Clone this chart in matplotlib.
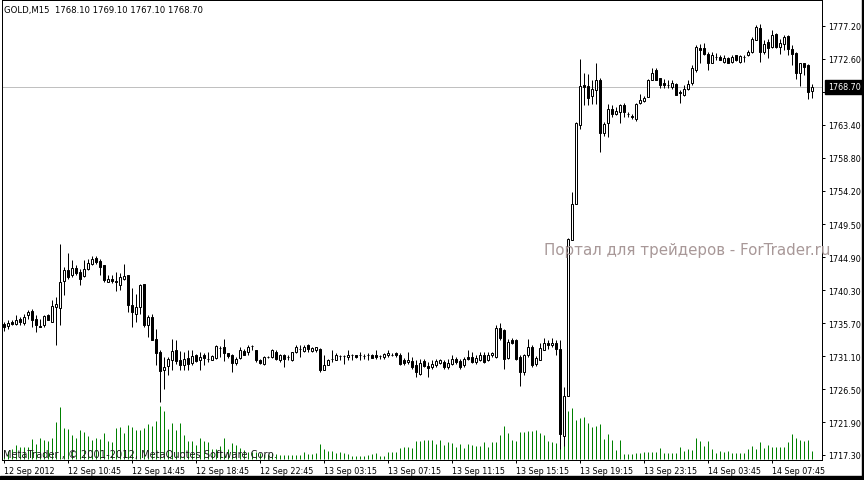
import matplotlib
matplotlib.use('Agg')
import matplotlib.pyplot as plt
from matplotlib.transforms import blended_transform_factory
from matplotlib.patches import Rectangle


# GOLD M15, 12 Sep 06:45 .. 14 Sep 09:15, bar by bar
opens = [
    1735.6, 1735.3, 1735.8, 1735.6, 1736.3, 1735.7, 1736.8, 1737.4, 1736.3, 1735.3,
    1735.4, 1736.9, 1735.9, 1737.9, 1737.8, 1741.6, 1743.1, 1742.4, 1743.4, 1742.9,
    1742.3, 1743.3, 1744.0, 1744.8, 1744.4, 1743.8, 1741.5, 1741.9, 1741.6, 1741.1,
    1741.9, 1742.4, 1738.3, 1737.0, 1738.0, 1741.2, 1735.5, 1736.5, 1733.5, 1731.7,
    1729.1, 1729.7, 1730.5, 1732.0, 1730.6, 1729.9, 1730.9, 1730.1, 1731.2, 1730.5,
    1731.2, 1730.7, 1730.6, 1730.9, 1732.3, 1732.4, 1731.5, 1731.3, 1730.2, 1730.9,
    1731.8, 1731.7, 1732.5, 1732.0, 1730.5, 1730.0, 1731.0, 1731.0, 1731.7, 1730.6,
    1731.3, 1731.0, 1730.5, 1731.7, 1732.1, 1731.8, 1732.6, 1731.8, 1731.9, 1732.1,
    1729.2, 1729.9, 1730.7, 1730.6, 1731.1, 1731.1, 1731.0, 1731.2, 1731.2, 1731.2,
    1731.1, 1731.2, 1731.2, 1731.3, 1731.1, 1731.0, 1731.2, 1731.3, 1731.5, 1731.3,
    1730.6, 1730.3, 1730.4, 1729.8, 1728.6, 1730.4, 1729.7, 1729.6, 1729.9, 1730.2,
    1730.3, 1729.6, 1730.0, 1730.7, 1730.4, 1729.8, 1731.0, 1731.0, 1730.3, 1730.5,
    1731.3, 1730.5, 1731.2, 1731.0, 1735.1, 1734.8, 1730.8, 1733.4, 1733.3, 1731.0,
    1728.9, 1731.3, 1732.4, 1730.0, 1730.6, 1732.0, 1733.0, 1732.6, 1733.0, 1732.1,
    1719.9, 1725.6, 1747.3, 1752.4, 1763.4, 1769.0, 1768.8, 1767.4, 1768.3, 1769.6,
    1762.3, 1763.6, 1765.6, 1764.9, 1765.2, 1766.2, 1764.9, 1764.7, 1764.2, 1766.5,
    1766.7, 1767.3, 1769.7, 1771.0, 1769.9, 1769.3, 1769.0, 1768.7, 1769.1, 1768.0,
    1767.6, 1768.4, 1769.2, 1771.0, 1774.1, 1774.1, 1773.3, 1772.1, 1772.9, 1772.9,
    1772.2, 1772.8, 1772.2, 1773.1, 1772.2, 1772.9, 1773.2, 1773.5, 1775.3, 1776.9,
    1773.5, 1774.9, 1774.2, 1776.1, 1774.3, 1774.7, 1775.8, 1774.0, 1773.4, 1770.6,
    1772.0, 1771.7, 1768.1,
]
highs = [
    1735.8, 1736.1, 1736.2, 1736.8, 1736.5, 1737.0, 1737.6, 1737.7, 1736.8, 1736.3,
    1736.9, 1737.0, 1739.0, 1739.3, 1746.8, 1743.5, 1745.5, 1744.5, 1743.8, 1743.3,
    1744.5, 1744.7, 1745.1, 1745.1, 1744.7, 1743.8, 1742.4, 1742.5, 1742.9, 1742.7,
    1744.0, 1742.4, 1740.6, 1739.8, 1741.2, 1741.2, 1736.8, 1737.0, 1734.9, 1731.9,
    1731.0, 1731.0, 1733.5, 1733.3, 1731.8, 1731.7, 1731.9, 1731.9, 1731.4, 1731.7,
    1731.6, 1731.7, 1731.2, 1732.6, 1732.5, 1733.5, 1731.6, 1731.4, 1731.0, 1732.4,
    1732.1, 1732.6, 1732.7, 1732.0, 1730.7, 1731.1, 1731.1, 1732.1, 1731.9, 1731.4,
    1731.4, 1731.3, 1731.7, 1732.6, 1732.6, 1732.7, 1732.8, 1732.4, 1732.4, 1732.2,
    1731.2, 1730.7, 1731.9, 1731.5, 1731.3, 1731.3, 1731.9, 1731.4, 1731.3, 1731.7,
    1731.4, 1731.5, 1731.4, 1731.9, 1731.2, 1731.6, 1731.9, 1731.6, 1731.7, 1731.6,
    1730.8, 1731.7, 1731.0, 1730.5, 1730.7, 1730.7, 1730.3, 1730.5, 1730.7, 1730.7,
    1730.6, 1730.7, 1731.2, 1731.0, 1730.7, 1731.0, 1731.9, 1731.7, 1731.2, 1731.7,
    1731.7, 1731.7, 1731.7, 1735.4, 1735.7, 1734.9, 1733.5, 1733.7, 1733.5, 1731.2,
    1731.4, 1733.5, 1732.6, 1731.1, 1733.0, 1733.7, 1733.3, 1733.7, 1733.3, 1733.3,
    1726.8, 1747.6, 1754.0, 1763.8, 1772.6, 1770.7, 1770.5, 1769.7, 1772.0, 1769.9,
    1763.8, 1766.3, 1766.1, 1765.9, 1766.3, 1766.4, 1765.2, 1764.9, 1766.5, 1767.7,
    1767.4, 1769.8, 1771.3, 1771.3, 1770.0, 1769.8, 1769.7, 1769.6, 1769.2, 1768.2,
    1769.0, 1769.6, 1771.7, 1774.6, 1774.7, 1774.8, 1773.5, 1773.6, 1773.4, 1773.1,
    1773.1, 1772.9, 1773.2, 1773.2, 1773.1, 1773.2, 1773.8, 1775.6, 1777.3, 1777.5,
    1775.2, 1775.4, 1776.6, 1776.2, 1775.4, 1775.9, 1775.9, 1774.5, 1773.5, 1772.1,
    1772.1, 1771.9, 1769.1,
]
lows = [
    1734.6, 1734.9, 1735.5, 1735.4, 1735.4, 1735.5, 1736.3, 1735.2, 1734.5, 1735.2,
    1735.2, 1736.1, 1735.8, 1732.7, 1735.4, 1739.7, 1741.9, 1742.1, 1742.5, 1741.1,
    1742.1, 1743.1, 1743.8, 1744.0, 1742.5, 1741.4, 1741.4, 1741.3, 1740.2, 1740.3,
    1741.7, 1737.2, 1735.2, 1735.8, 1737.0, 1735.2, 1733.8, 1733.3, 1729.8, 1724.7,
    1726.5, 1728.5, 1729.1, 1730.0, 1729.2, 1729.2, 1729.2, 1729.8, 1730.3, 1729.1,
    1729.8, 1730.3, 1730.5, 1730.7, 1731.0, 1730.4, 1730.8, 1728.9, 1729.8, 1730.7,
    1731.2, 1731.2, 1731.9, 1730.3, 1730.0, 1729.9, 1730.9, 1730.8, 1730.5, 1730.3,
    1729.6, 1730.5, 1730.4, 1731.6, 1731.0, 1731.7, 1731.7, 1731.7, 1731.7, 1728.9,
    1729.1, 1729.8, 1730.3, 1730.5, 1730.5, 1730.0, 1730.5, 1730.5, 1730.9, 1730.5,
    1730.7, 1730.6, 1730.8, 1730.7, 1730.7, 1730.7, 1731.0, 1731.1, 1731.0, 1729.9,
    1729.8, 1730.0, 1729.3, 1728.2, 1728.4, 1729.6, 1728.2, 1729.3, 1729.6, 1730.0,
    1729.3, 1729.3, 1729.9, 1730.0, 1729.3, 1729.6, 1730.5, 1730.1, 1730.0, 1730.4,
    1730.2, 1730.4, 1731.0, 1730.8, 1733.4, 1729.3, 1730.7, 1732.8, 1730.5, 1727.0,
    1728.4, 1731.0, 1729.6, 1729.7, 1730.5, 1731.9, 1732.1, 1732.4, 1731.2, 1718.2,
    1718.6, 1725.5, 1747.3, 1752.4, 1762.8, 1766.1, 1766.1, 1766.3, 1766.3, 1759.6,
    1761.9, 1761.7, 1764.5, 1764.8, 1763.6, 1764.5, 1764.5, 1764.2, 1764.0, 1766.3,
    1766.6, 1767.3, 1769.6, 1769.6, 1768.5, 1768.6, 1768.6, 1768.4, 1767.6, 1766.5,
    1767.4, 1768.2, 1769.0, 1770.8, 1772.1, 1773.2, 1771.1, 1772.0, 1772.5, 1772.4,
    1772.0, 1772.0, 1772.1, 1772.3, 1772.1, 1772.2, 1773.0, 1773.4, 1775.2, 1772.2,
    1773.3, 1772.8, 1774.1, 1774.1, 1773.3, 1773.8, 1773.1, 1771.8, 1769.8, 1768.8,
    1770.3, 1767.0, 1767.1,
]
closes = [
    1735.2, 1735.7, 1735.6, 1736.2, 1735.8, 1736.6, 1737.2, 1736.1, 1735.4, 1735.2,
    1736.7, 1736.2, 1738.1, 1738.4, 1741.4, 1743.1, 1742.2, 1743.4, 1742.7, 1741.9,
    1743.3, 1744.1, 1744.7, 1744.2, 1743.6, 1741.7, 1741.9, 1741.6, 1741.5, 1742.1,
    1742.3, 1738.3, 1737.2, 1737.9, 1741.1, 1735.4, 1736.6, 1733.4, 1731.5, 1729.0,
    1729.6, 1730.7, 1731.8, 1730.4, 1729.9, 1730.7, 1730.0, 1731.1, 1730.4, 1731.0,
    1730.8, 1730.7, 1731.1, 1732.5, 1732.3, 1731.5, 1731.1, 1730.1, 1730.7, 1732.0,
    1731.3, 1732.4, 1732.5, 1730.6, 1730.2, 1731.0, 1731.0, 1731.9, 1730.7, 1731.2,
    1730.7, 1731.0, 1731.7, 1732.4, 1732.1, 1732.4, 1732.1, 1732.2, 1732.4, 1729.2,
    1729.9, 1730.6, 1730.7, 1731.3, 1731.1, 1731.1, 1731.3, 1731.2, 1731.0, 1731.2,
    1731.1, 1731.2, 1730.9, 1731.0, 1731.1, 1731.4, 1731.6, 1731.3, 1731.2, 1730.0,
    1730.2, 1730.6, 1729.6, 1728.9, 1730.1, 1729.7, 1729.5, 1730.0, 1730.4, 1730.5,
    1729.6, 1730.1, 1730.7, 1730.3, 1729.6, 1730.7, 1730.7, 1730.3, 1730.8, 1731.3,
    1730.3, 1731.3, 1731.5, 1735.0, 1733.6, 1730.7, 1733.1, 1733.0, 1730.7, 1728.9,
    1731.3, 1732.4, 1729.8, 1730.8, 1732.2, 1733.0, 1732.7, 1733.0, 1732.1, 1720.3,
    1725.5, 1747.5, 1752.3, 1763.6, 1768.8, 1768.7, 1767.1, 1768.4, 1769.6, 1762.3,
    1763.5, 1765.6, 1764.9, 1765.4, 1766.1, 1765.2, 1764.9, 1764.5, 1766.3, 1766.8,
    1767.1, 1769.7, 1770.6, 1769.7, 1769.0, 1769.0, 1769.0, 1769.3, 1767.6, 1767.9,
    1768.4, 1769.1, 1771.3, 1774.2, 1773.9, 1773.3, 1772.1, 1773.2, 1772.9, 1772.5,
    1772.8, 1772.1, 1772.9, 1772.4, 1773.0, 1772.9, 1773.5, 1775.4, 1777.0, 1773.6,
    1774.7, 1774.1, 1776.0, 1774.2, 1774.8, 1775.6, 1774.0, 1773.3, 1770.6, 1772.0,
    1771.5, 1768.0, 1768.7,
]
# tick volumes
volumes = [
    93, 83, 100, 140, 117, 117, 123, 200, 150, 207, 193, 183, 210, 373, 523, 310, 300, 243, 210, 290,
    267, 233, 190, 207, 200, 263, 177, 167, 310, 317, 260, 340, 323, 290, 290, 307, 350, 327, 377, 533,
    483, 300, 360, 293, 360, 243, 183, 183, 143, 207, 183, 173, 100, 100, 127, 210, 100, 157, 143, 107,
    90, 73, 73, 67, 57, 50, 50, 57, 50, 43, 43, 43, 43, 43, 43, 73, 50, 50, 60, 150,
    100, 83, 77, 57, 67, 57, 50, 33, 33, 33, 33, 40, 50, 57, 33, 33, 73, 73, 73, 110,
    117, 117, 110, 177, 183, 190, 190, 190, 150, 190, 143, 173, 160, 123, 150, 110, 150, 140, 127, 133,
    173, 123, 167, 173, 243, 333, 257, 193, 183, 273, 267, 283, 283, 290, 257, 243, 183, 167, 157, 450,
    500, 477, 510, 393, 410, 423, 360, 323, 333, 350, 200, 250, 190, 90, 190, 50, 50, 50, 60, 60,
    67, 73, 67, 67, 110, 60, 57, 57, 57, 123, 83, 100, 90, 210, 177, 133, 177, 100, 60, 83,
    73, 83, 57, 57, 57, 57, 100, 133, 100, 173, 110, 140, 123, 123, 123, 117, 167, 250, 210, 190,
    183, 190, 77,
]

tick_bars = [0, 16, 32, 48, 64, 80, 96, 112, 128, 144, 160, 176, 192]
tick_labels = ['12 Sep 2012', '12 Sep 10:45', '12 Sep 14:45', '12 Sep 18:45', '12 Sep 22:45',
               '13 Sep 03:15', '13 Sep 07:15', '13 Sep 11:15', '13 Sep 15:15', '13 Sep 19:15',
               '13 Sep 23:15', '14 Sep 03:45', '14 Sep 07:45']
price_ticks = [1777.2, 1772.6, 1768.0, 1763.4, 1758.8, 1754.2, 1749.5, 1744.9,
               1740.3, 1735.7, 1731.1, 1726.5, 1721.9, 1717.3]
last_price = 1768.70

W, H = 864, 481
PX = 0.72  # one pixel in points at 100 dpi


def draw_chart():
    fig = plt.figure(figsize=(W / 100, H / 100), dpi=100)
    ax = fig.add_axes([2 / W, 20 / H, 820 / W, 460 / H])
    ax2 = ax.twinx()
    ax.set_zorder(ax2.get_zorder() + 1)
    ax.patch.set_visible(False)

    x = list(range(len(opens)))

    # volume histogram at the bottom
    ax2.vlines(x, 0, volumes, color='#008000', linewidth=PX)
    ax2.set_ylim(-10, 4590)
    ax2.set_yticks([])
    for s in ax2.spines.values():
        s.set_visible(False)

    # candles
    ax.axhline(last_price, color='#c0c0c0', linewidth=PX, zorder=1)
    ax.vlines(x, lows, highs, color='black', linewidth=PX, zorder=2)
    bottoms = [min(o, c) for o, c in zip(opens, closes)]
    heights = [abs(c - o) for o, c in zip(opens, closes)]
    faces = ['white' if c >= o else 'black' for o, c in zip(opens, closes)]
    ax.bar(x, heights, bottom=bottoms, width=0.5, color=faces,
           edgecolor='black', linewidth=PX, zorder=3)

    # bar centres land on pixel centres (4 px per bar)
    ax.set_xlim(-0.375, 204.625)
    ax.set_ylim(1716.6, 1780.83)

    # the 1768.00 level sits under the current price box, so its label stays empty
    ax.yaxis.tick_right()
    ax.set_yticks(price_ticks,
                  labels=['' if p == 1768.0 else '%.2f' % p for p in price_ticks])
    ax.tick_params(axis='y', direction='out', length=2.5, width=PX, pad=2,
                   labelsize=5.8, colors='black')
    ax.set_xticks(tick_bars, labels=tick_labels)
    ax.tick_params(axis='x', direction='out', length=2.5, width=PX, pad=1.5,
                   labelsize=5.8, colors='black')
    for lbl in ax.get_xticklabels():
        lbl.set_ha('left')
    for s in ax.spines.values():
        s.set_color('black')
        s.set_linewidth(PX)

    # current price marker on the scale
    tr = blended_transform_factory(ax.transAxes, ax.transData)
    ax.text(1.0 + 6 / 820, last_price, '%.2f' % last_price, transform=tr, color='white',
            fontsize=5.8, va='center', ha='left', clip_on=False, zorder=10,
            bbox=dict(boxstyle='square,pad=0.35', fc='black', ec='black'))

    fig.text(4 / W, 1 - 10 / H, 'GOLD,M15  1768.10 1769.10 1767.10 1768.70',
             fontsize=6.1, va='center', ha='left', color='black')
    fig.text(544 / W, 1 - 251 / H, 'Портал для трейдеров - ForTrader.ru',
             fontsize=10.8, va='center', ha='left', color='#a89898')
    fig.text(3 / W, 1 - 455 / H, 'MetaTrader , © 2001-2012, MetaQuotes Software Corp.',
             fontsize=7.1, va='center', ha='left', color='#1a1a1a')

    # window border strips
    fig.add_artist(Rectangle((0, 0), 1, 4 / H, transform=fig.transFigure,
                             color='black', zorder=20))
    fig.add_artist(Rectangle((862 / W, 0), 2 / W, 1, transform=fig.transFigure,
                             color='black', zorder=20))

    fig.savefig('out.png', dpi=100, facecolor='white')


def main():
    draw_chart()


if __name__ == "__main__":
    main()
